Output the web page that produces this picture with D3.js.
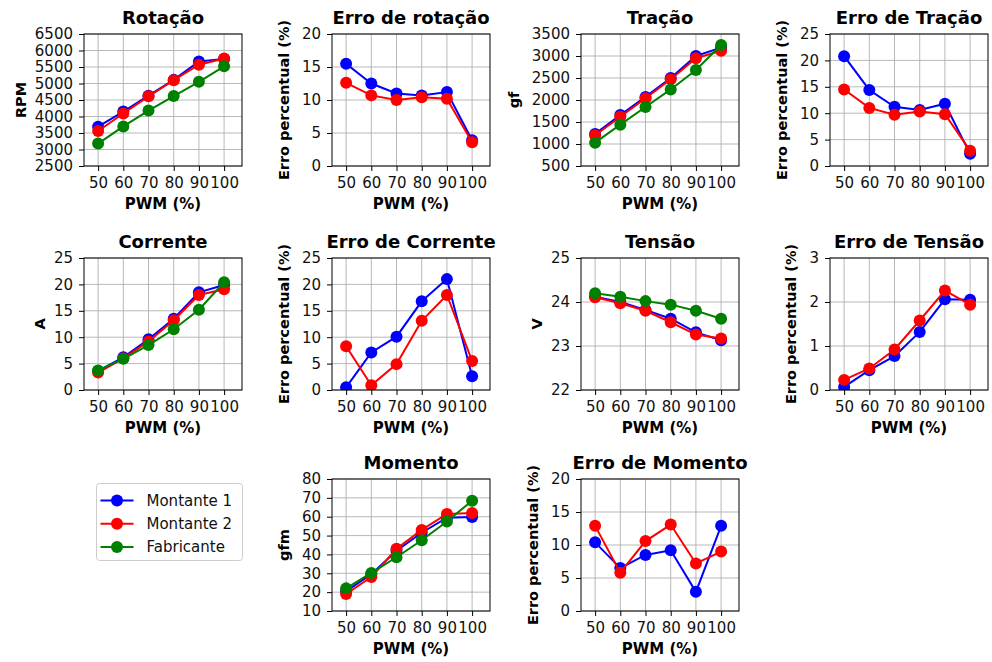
<!DOCTYPE html>
<html>
<head>
<meta charset="utf-8">
<script src="https://cdn.jsdelivr.net/npm/d3@7"></script>
<style>
  body { margin: 0; background: #fff; }
  svg { font-family: "DejaVu Sans", sans-serif; }
</style>
</head>
<body>
<div class="chart"></div>
<script>
// Dados
const pwm = [50, 60, 70, 80, 90, 100];
const seriesNames = ["Montante 1", "Montante 2", "Fabricante"];
const seriesColors = ["#0000ff", "#ff0000", "#008000"];

const rotM1 = [3690, 4150, 4630, 5110, 5670, 5740];
const rotM2 = [3560, 4090, 4610, 5100, 5570, 5760];
const rotFab = [3180, 3700, 4180, 4620, 5050, 5520];
const errRotM1 = [15.5, 12.5, 11.0, 10.7, 11.2, 3.9];
const errRotM2 = [12.6, 10.7, 10.0, 10.4, 10.2, 3.6];

const traM1 = [1230, 1660, 2070, 2500, 3000, 3190];
const traM2 = [1200, 1620, 2040, 2470, 2950, 3120];
const traFab = [1030, 1440, 1840, 2240, 2680, 3250];
const errTraM1 = [20.8, 14.4, 11.2, 10.6, 11.8, 2.3];
const errTraM2 = [14.5, 11.0, 9.7, 10.3, 9.8, 2.9];

const corM1 = [3.6, 6.2, 9.6, 13.5, 18.5, 19.9];
const corM2 = [3.3, 6.0, 9.2, 13.2, 18.0, 19.1];
const corFab = [3.7, 5.9, 8.5, 11.5, 15.2, 20.4];
const errCorM1 = [0.5, 7.1, 10.1, 16.8, 21.0, 2.6];
const errCorM2 = [8.3, 0.9, 4.9, 13.1, 18.0, 5.5];

const tenM1 = [24.12, 24.0, 23.82, 23.62, 23.31, 23.13];
const tenM2 = [24.11, 23.97, 23.8, 23.54, 23.26, 23.17];
const tenFab = [24.2, 24.12, 24.02, 23.94, 23.8, 23.62];
const errTenM1 = [0.07, 0.45, 0.77, 1.32, 2.06, 2.05];
const errTenM2 = [0.23, 0.49, 0.92, 1.58, 2.26, 1.94];

const momM1 = [20.5, 29.5, 42, 51.5, 59.5, 59.8];
const momM2 = [19, 28, 43, 53, 61.5, 62];
const momFab = [22, 30.2, 38.5, 47.5, 57.5, 68.5];
const errMomM1 = [10.4, 6.5, 8.5, 9.2, 2.9, 12.9];
const errMomM2 = [12.9, 5.8, 10.6, 13.1, 7.2, 9.0];

const yTicksRot = d3.range(2500, 6501, 500);
const yTicksErr20 = d3.range(0, 21, 5);
const yTicksTra = d3.range(500, 3501, 500);
const yTicksErr25 = d3.range(0, 26, 5);
const yTicksTen = [22, 23, 24, 25];
const yTicksErrTen = [0, 1, 2, 3];
const yTicksMom = d3.range(10, 81, 10);

const errLabel = "Erro percentual (%)";
const panels = [
  { title: "Rotação", ylabel: "RPM", ticks: yTicksRot, lines: [rotM1, rotM2, rotFab], row: 0, col: 0, xlabel: true },
  { title: "Erro de rotação", ylabel: errLabel, ticks: yTicksErr20, lines: [errRotM1, errRotM2], row: 0, col: 1, xlabel: true },
  { title: "Tração", ylabel: "gf", ticks: yTicksTra, lines: [traM1, traM2, traFab], row: 0, col: 2, xlabel: true },
  { title: "Erro de Tração", ylabel: errLabel, ticks: yTicksErr25, lines: [errTraM1, errTraM2], row: 0, col: 3, xlabel: false },
  { title: "Corrente", ylabel: "A", ticks: yTicksErr25, lines: [corM1, corM2, corFab], row: 1, col: 0, xlabel: true },
  { title: "Erro de Corrente", ylabel: errLabel, ticks: yTicksErr25, lines: [errCorM1, errCorM2], row: 1, col: 1, xlabel: true },
  { title: "Tensão", ylabel: "V", ticks: yTicksTen, lines: [tenM1, tenM2, tenFab], row: 1, col: 2, xlabel: true },
  { title: "Erro de Tensão", ylabel: errLabel, ticks: yTicksErrTen, lines: [errTenM1, errTenM2], row: 1, col: 3, xlabel: true },
  { title: "Momento", ylabel: "gfm", ticks: yTicksMom, lines: [momM1, momM2, momFab], row: 2, col: 1, xlabel: true },
  { title: "Erro de Momento", ylabel: errLabel, ticks: yTicksErr20, lines: [errMomM1, errMomM2], row: 2, col: 2, xlabel: true }
];

// Layout
const colLeft = [84, 332, 581, 830];
const rowTop = [34, 258, 479];
const w = 158, h = 132;

const svg = d3.select('.chart')
  .append('svg')
  .attr('width', 992)
  .attr('height', 662);

svg.append('rect').attr('width', 992).attr('height', 662).attr('fill', '#fff');

panels.forEach((p, i) => {
  const left = colLeft[p.col], top = rowTop[p.row];
  const g = svg.append('g').attr('transform', `translate(${left},${top})`);

  const x = d3.scaleLinear().domain([44.4, 107.1]).range([0, w]);
  const y = d3.scaleLinear().domain(d3.extent(p.ticks)).range([h, 0]);

  // griglia
  g.append('g').selectAll('line').data(pwm).join('line')
    .attr('x1', d => x(d)).attr('x2', d => x(d)).attr('y1', 0).attr('y2', h)
    .attr('stroke', '#b0b0b0').attr('stroke-width', 0.9);
  g.append('g').selectAll('line').data(p.ticks).join('line')
    .attr('x1', 0).attr('x2', w).attr('y1', d => y(d)).attr('y2', d => y(d))
    .attr('stroke', '#b0b0b0').attr('stroke-width', 0.9);

  g.append('clipPath').attr('id', 'clip' + i)
    .append('rect').attr('width', w).attr('height', h);

  const plot = g.append('g').attr('clip-path', `url(#clip${i})`);
  const line = d3.line().x((d, j) => x(pwm[j])).y(d => y(d));

  p.lines.forEach((vals, k) => {
    plot.append('path').datum(vals)
      .attr('d', line)
      .attr('fill', 'none')
      .attr('stroke', seriesColors[k])
      .attr('stroke-width', 2);
    plot.selectAll(null).data(vals).join('circle')
      .attr('cx', (d, j) => x(pwm[j])).attr('cy', d => y(d))
      .attr('r', 6).attr('fill', seriesColors[k]);
  });

  // assi
  const xAxis = g.append('g').attr('transform', `translate(0,${h})`)
    .call(d3.axisBottom(x).tickValues(pwm).tickFormat(d3.format('d')).tickSize(5).tickPadding(6));
  const yAxis = g.append('g')
    .call(d3.axisLeft(y).tickValues(p.ticks).tickFormat(d3.format('d')).tickSize(5).tickPadding(6));
  [xAxis, yAxis].forEach(a => {
    a.select('.domain').remove();
    a.selectAll('text').attr('font-size', 15).attr('fill', '#111').attr('font-family', '"DejaVu Sans", sans-serif');
    a.selectAll('line').attr('stroke', '#000').attr('stroke-width', 1);
  });

  g.append('rect').attr('width', w).attr('height', h)
    .attr('fill', 'none').attr('stroke', '#000').attr('stroke-width', 1);

  // titoli
  g.append('text').attr('x', w / 2).attr('y', -10)
    .attr('text-anchor', 'middle').attr('font-size', 18).attr('font-weight', 'bold')
    .text(p.title);

  if (p.xlabel) {
    g.append('text').attr('x', w / 2).attr('y', h + 43)
      .attr('text-anchor', 'middle').attr('font-size', 15).attr('font-weight', 'bold')
      .text('PWM (%)');
  }

  let maxW = 0;
  yAxis.selectAll('text').each(function () { maxW = Math.max(maxW, this.getComputedTextLength()); });
  const desc = /[pgqy(]/.test(p.ylabel) ? 4 : 0;
  const lx = -5 - 6 - maxW - 9 - desc;
  g.append('text')
    .attr('transform', `translate(${lx},${h / 2}) rotate(-90)`)
    .attr('text-anchor', 'middle').attr('font-size', 14.5).attr('font-weight', 'bold')
    .text(p.ylabel);
});

// legenda
const leg = svg.append('g').attr('transform', 'translate(96.5,483.5)');
leg.append('rect').attr('width', 146).attr('height', 77).attr('rx', 3)
  .attr('fill', '#fff').attr('stroke', '#cccccc');
seriesNames.forEach((name, k) => {
  const yy = 17 + k * 23.3;
  leg.append('line').attr('x1', 4).attr('x2', 37).attr('y1', yy).attr('y2', yy)
    .attr('stroke', seriesColors[k]).attr('stroke-width', 2);
  leg.append('circle').attr('cx', 20.5).attr('cy', yy).attr('r', 6).attr('fill', seriesColors[k]);
  leg.append('text').attr('x', 50).attr('y', yy + 5).attr('font-size', 15).attr('fill', '#111').text(name);
});
</script>
</body>
</html>
